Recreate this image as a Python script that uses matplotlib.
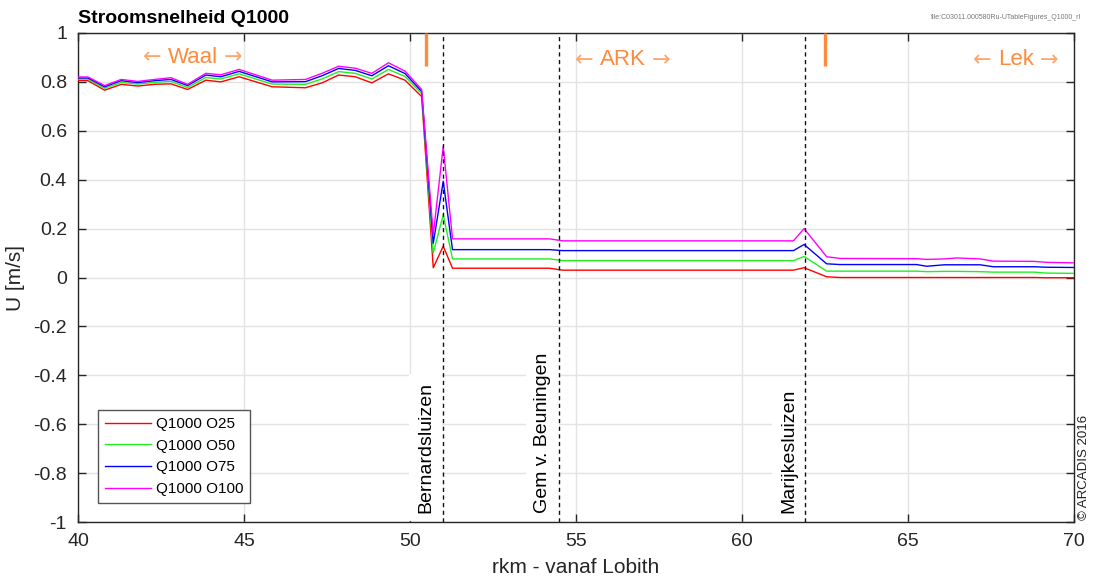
import matplotlib
matplotlib.use("Agg")
import matplotlib.pyplot as plt

plt.rcParams['font.family'] = ['Liberation Sans', 'DejaVu Sans']
plt.rcParams['axes.unicode_minus'] = False

# ---- data ----
rkm = [40.0, 40.3, 40.8, 41.3, 41.8, 42.3, 42.8, 43.3, 43.85, 44.3, 44.85, 45.85,
       46.85, 47.35, 47.85, 48.35, 48.85, 49.35, 49.85, 50.35, 50.7, 51.0, 51.28,
       54.2, 54.6, 61.55, 61.87, 62.55, 62.95, 65.26, 65.56, 66.1, 66.47, 67.17,
       67.57, 68.8, 69.18, 70.0]

u_o25 = [0.806, 0.805, 0.766, 0.790, 0.783, 0.790, 0.792, 0.769, 0.807, 0.800,
         0.821, 0.780, 0.776, 0.796, 0.828, 0.821, 0.796, 0.833, 0.807, 0.740,
         0.040, 0.128, 0.038, 0.038, 0.030, 0.030, 0.040, 0.003, 0.000, 0.000,
         0.000, 0.000, 0.000, 0.000, 0.000, 0.000, -0.001, -0.001]
u_o50 = [0.812, 0.811, 0.774, 0.798, 0.791, 0.798, 0.802, 0.777, 0.818, 0.812,
         0.833, 0.791, 0.790, 0.812, 0.842, 0.835, 0.812, 0.851, 0.822, 0.752,
         0.100, 0.257, 0.076, 0.076, 0.069, 0.069, 0.086, 0.026, 0.026, 0.026,
         0.024, 0.025, 0.025, 0.024, 0.022, 0.022, 0.018, 0.017]
u_o75 = [0.816, 0.816, 0.780, 0.805, 0.797, 0.805, 0.810, 0.785, 0.828, 0.821,
         0.843, 0.800, 0.801, 0.825, 0.855, 0.847, 0.825, 0.866, 0.834, 0.761,
         0.140, 0.393, 0.114, 0.114, 0.110, 0.110, 0.135, 0.056, 0.053, 0.053,
         0.046, 0.052, 0.052, 0.052, 0.044, 0.044, 0.042, 0.041]
u_o100 = [0.820, 0.820, 0.785, 0.810, 0.802, 0.810, 0.817, 0.790, 0.835, 0.829,
          0.851, 0.807, 0.810, 0.835, 0.864, 0.856, 0.835, 0.878, 0.844, 0.769,
          0.175, 0.536, 0.158, 0.158, 0.150, 0.150, 0.200, 0.085, 0.078, 0.077,
          0.074, 0.076, 0.080, 0.076, 0.067, 0.066, 0.062, 0.060]

series_labels = ['Q1000 O25', 'Q1000 O50', 'Q1000 O75', 'Q1000 O100']
series_colors = ['#FF0000', '#22EE22', '#0000FF', '#FF00FF']

structures = ['Bernardsluizen', 'Gem v. Beuningen', 'Marijkesluizen']
structure_rkm = [51.0, 54.5, 61.9]
structure_text_x = [50.47, 53.99, 61.42]

branch_marks = [50.48, 62.5]
branch_names = ['Waal', 'ARK', 'Lek']
branch_text_x = [43.46, 56.40, 68.25]
branch_text_y = [0.90, 0.89, 0.89]

xticks = [40, 45, 50, 55, 60, 65, 70]
yticks = [-1, -0.8, -0.6, -0.4, -0.2, 0, 0.2, 0.4, 0.6, 0.8, 1]
ytick_labels = ['-1', '-0.8', '-0.6', '-0.4', '-0.2', '0', '0.2', '0.4', '0.6', '0.8', '1']

# ---- figure ----
fig = plt.figure(figsize=(10.93, 5.87), dpi=100)
ax = fig.add_axes([0.0714, 0.1107, 0.9112, 0.8331])

orange = '#FF8A3D'
arrow_orange = '#FFA66B'
for vals, lab, col in zip([u_o25, u_o50, u_o75, u_o100], series_labels, series_colors):
    ax.plot(rkm, vals, color=col, lw=1.0, label=lab, zorder=4)

for xs in structure_rkm:
    ax.axvline(xs, color='#111111', lw=1.0, ls=(0, (3, 2.5)), zorder=5)

for name, xt in zip(structures, structure_text_x):
    ax.text(xt, -0.963, name, rotation=90, ha='center', va='bottom', fontsize=14,
            color='black', zorder=3, clip_on=True,
            bbox=dict(facecolor='white', edgecolor='none', pad=6))

for xb in branch_marks:
    ax.plot([xb, xb], [0.865, 1.0], color=orange, lw=2.4, solid_capstyle='butt', zorder=6)

ax.set_xlim(40, 70)
ax.set_ylim(-1, 1)

word_texts = []
for name, xt, yt in zip(branch_names, branch_text_x, branch_text_y):
    t = ax.text(xt, yt, name, ha='center', va='center', fontsize=16, color=orange, zorder=6)
    word_texts.append(t)

fig.canvas.draw()
renderer = fig.canvas.get_renderer()
for t, xt, yt in zip(word_texts, branch_text_x, branch_text_y):
    bb = t.get_window_extent(renderer)
    half_pt = bb.width / 2 * 72 / fig.dpi
    gap = 4.5
    ax.annotate('\u2190', xy=(xt, yt), xytext=(-(half_pt + gap), 0), textcoords='offset points',
                ha='right', va='center', fontsize=16, color=arrow_orange,
                family='DejaVu Sans', zorder=6)
    ax.annotate('\u2192', xy=(xt, yt), xytext=(half_pt + gap, 0), textcoords='offset points',
                ha='left', va='center', fontsize=16, color=arrow_orange,
                family='DejaVu Sans', zorder=6)

ax.set_xticks(xticks)
ax.set_yticks(yticks)
ax.set_yticklabels(ytick_labels)
ax.tick_params(direction='in', top=True, right=True, length=6, width=1,
               labelsize=14, colors='#262626', pad=8)
ax.grid(True, color='#E3E3E3', lw=1.0, zorder=0)
ax.set_axisbelow(True)
for sp in ax.spines.values():
    sp.set_color('#262626')
    sp.set_linewidth(1.0)

ax.set_xlabel('rkm - vanaf Lobith', fontsize=15, color='#262626', labelpad=6)
ax.set_ylabel('U [m/s]', fontsize=15, color='#262626', labelpad=6)

ax.text(0.0, 1.012, 'Stroomsnelheid Q1000', transform=ax.transAxes, ha='left',
        va='bottom', fontsize=14, fontweight='bold', color='black')
fig.text(0.989, 0.971, 'file:C03011.000580Ru-UTableFigures_Q1000_rl', ha='right',
         va='center', fontsize=5, color='#777777')
fig.text(0.9915, 0.203, '\u00a9 ARCADIS 2016', rotation=90, ha='center', va='center',
         fontsize=9.5, color='#222222')

leg = ax.legend(loc='lower left', bbox_to_anchor=(0.02, 0.039), fontsize=11,
                frameon=True, fancybox=False, framealpha=1, edgecolor='#555555',
                handlelength=3.0, handletextpad=0.35, borderpad=0.45,
                labelspacing=0.5, borderaxespad=0)
leg.get_frame().set_linewidth(1.0)
leg.set_zorder(7)

fig.savefig('out.png', dpi=100)
